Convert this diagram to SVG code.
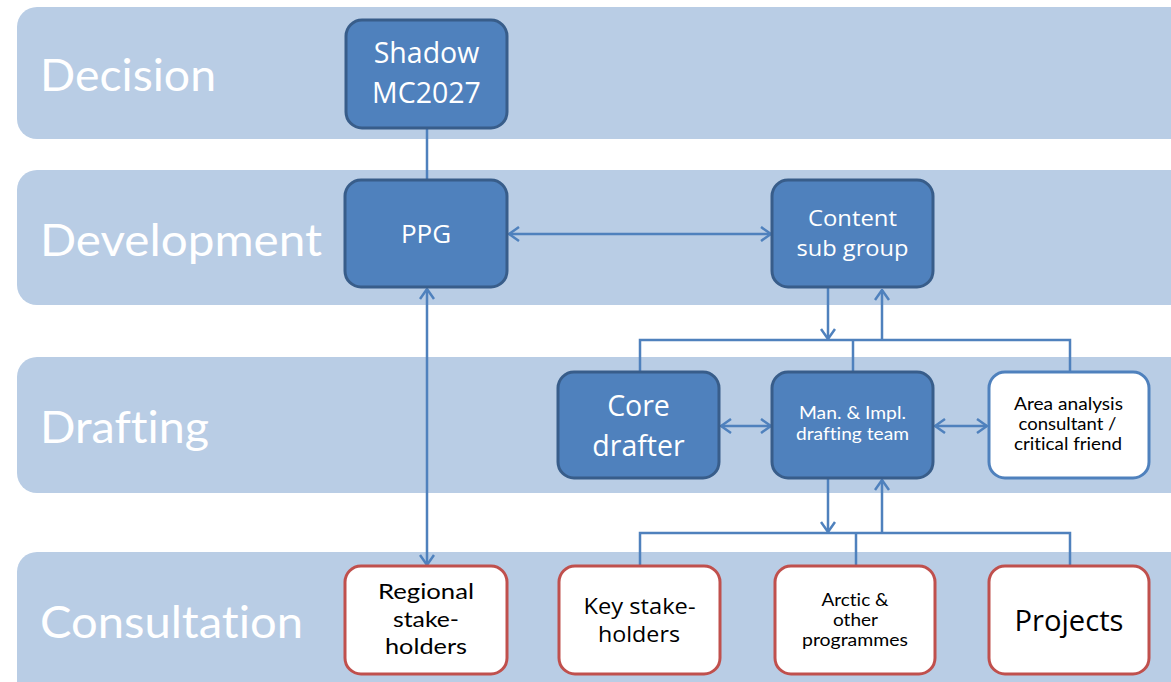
<svg xmlns="http://www.w3.org/2000/svg" width="1171" height="682" viewBox="0 0 1171 682">
<style>
.band{fill:#b9cde5}
.blabel{font-family:Lato,"Open Sans",sans-serif;font-size:44px;fill:#ffffff;font-variant-ligatures:none}
.dark{fill:#4f81bd;stroke:#385d8a;stroke-width:3}
.light{fill:#ffffff;stroke:#4f81bd;stroke-width:3}
.red{fill:#ffffff;stroke:#c0504d;stroke-width:3}
.t{font-family:"Open Sans",Lato,sans-serif;text-anchor:middle;font-variant-ligatures:none}
.s{font-family:Lato,"Open Sans",sans-serif;text-anchor:middle;font-variant-ligatures:none}
.w{fill:#ffffff}
.k{fill:#000000}
.c{fill:none;stroke:#4f81bd;stroke-width:2.5}
</style>
<defs>
<marker id="ah" viewBox="0 0 12 16" refX="11" refY="8" markerWidth="12" markerHeight="16" markerUnits="userSpaceOnUse" orient="auto-start-reverse">
<path d="M1,1 L11,8 L1,15" fill="none" stroke="#4f81bd" stroke-width="2.5"/>
</marker>
</defs>
<g id="bands">
<rect class="band" x="17" y="7" width="1200" height="132" rx="20"/>
<rect class="band" x="17" y="170" width="1200" height="135" rx="20"/>
<rect class="band" x="17" y="357" width="1200" height="136" rx="20"/>
<rect class="band" x="17" y="552" width="1200" height="150" rx="20"/>
<text class="blabel" x="40" y="91" textLength="176" lengthAdjust="spacingAndGlyphs">Decision</text>
<text class="blabel" x="40" y="256" textLength="282" lengthAdjust="spacingAndGlyphs">Development</text>
<text class="blabel" x="40" y="443" textLength="169" lengthAdjust="spacingAndGlyphs">Drafting</text>
<text class="blabel" x="40" y="638" textLength="263" lengthAdjust="spacingAndGlyphs">Consultation</text>
</g>
<g id="connectors">
<line class="c" x1="427" y1="128" x2="427" y2="180"/>
<line class="c" x1="509" y1="234" x2="771" y2="234" marker-start="url(#ah)" marker-end="url(#ah)"/>
<line class="c" x1="427" y1="289" x2="427" y2="565" marker-start="url(#ah)" marker-end="url(#ah)"/>
<line class="c" x1="828" y1="288" x2="828" y2="339" marker-end="url(#ah)"/>
<line class="c" x1="882" y1="340" x2="882" y2="290" marker-end="url(#ah)"/>
<polyline class="c" points="640,372 640,340 1070,340 1070,372"/>
<line class="c" x1="853" y1="340" x2="853" y2="372"/>
<line class="c" x1="721" y1="426" x2="771" y2="426" marker-start="url(#ah)" marker-end="url(#ah)"/>
<line class="c" x1="935" y1="426" x2="987" y2="426" marker-start="url(#ah)" marker-end="url(#ah)"/>
<line class="c" x1="828" y1="479" x2="828" y2="532" marker-end="url(#ah)"/>
<line class="c" x1="882" y1="533" x2="882" y2="480" marker-end="url(#ah)"/>
<polyline class="c" points="640,566 640,533 1070,533 1070,566"/>
<line class="c" x1="856" y1="533" x2="856" y2="566"/>
</g>
<g id="shadow">
<rect class="dark" x="346" y="20" width="161" height="108" rx="16"/>
<text class="t w" font-size="28.5" x="426.5" y="63">Shadow</text>
<text class="t w" font-size="28.5" x="426.5" y="103">MC2027</text>
</g>
<g id="ppg">
<rect class="dark" x="345" y="180" width="162" height="107" rx="16"/>
<text class="t w" font-size="26" x="426" y="243">PPG</text>
</g>
<g id="content">
<rect class="dark" x="772" y="180" width="161" height="107" rx="16"/>
<text class="t w" font-size="22.5" x="852.5" y="226" textLength="89" lengthAdjust="spacingAndGlyphs">Content</text>
<text class="t w" font-size="22.5" x="852.5" y="256" textLength="112" lengthAdjust="spacingAndGlyphs">sub group</text>
</g>
<g id="core">
<rect class="dark" x="558" y="372" width="161" height="106" rx="16"/>
<text class="t w" font-size="28.5" x="638.5" y="416">Core</text>
<text class="t w" font-size="28.5" x="638.5" y="456">drafter</text>
</g>
<g id="man">
<rect class="dark" x="772" y="372" width="161" height="106" rx="16"/>
<text class="s w" font-size="17.5" x="852.5" y="419" textLength="107" lengthAdjust="spacingAndGlyphs">Man. &amp; Impl.</text>
<text class="s w" font-size="17.5" x="852.5" y="440" textLength="113" lengthAdjust="spacingAndGlyphs">drafting team</text>
</g>
<g id="area">
<rect class="light" x="989" y="372" width="160" height="106" rx="16"/>
<text class="s k" font-size="16.5" x="1068.5" y="410" textLength="109" lengthAdjust="spacingAndGlyphs">Area analysis</text>
<text class="s k" font-size="16.5" x="1067.5" y="430" textLength="98" lengthAdjust="spacingAndGlyphs">consultant /</text>
<text class="s k" font-size="16.5" x="1068" y="450" textLength="108" lengthAdjust="spacingAndGlyphs">critical friend</text>
</g>
<g id="regional">
<rect class="red" x="345" y="566" width="162" height="108" rx="16"/>
<text class="s k" font-size="22" x="426" y="599" textLength="96" lengthAdjust="spacingAndGlyphs">Regional</text>
<text class="s k" font-size="22" x="426" y="627" textLength="66" lengthAdjust="spacingAndGlyphs">stake-</text>
<text class="s k" font-size="22" x="426" y="654" textLength="82" lengthAdjust="spacingAndGlyphs">holders</text>
</g>
<g id="key">
<rect class="red" x="559" y="566" width="161" height="108" rx="16"/>
<text class="t k" font-size="22.5" x="639.5" y="614" textLength="112" lengthAdjust="spacingAndGlyphs">Key stake-</text>
<text class="t k" font-size="22.5" x="639" y="642" textLength="82" lengthAdjust="spacingAndGlyphs">holders</text>
</g>
<g id="arctic">
<rect class="red" x="775" y="566" width="160" height="108" rx="16"/>
<text class="s k" font-size="16.5" x="855" y="606" textLength="67" lengthAdjust="spacingAndGlyphs">Arctic &amp;</text>
<text class="s k" font-size="16.5" x="855.5" y="626" textLength="45" lengthAdjust="spacingAndGlyphs">other</text>
<text class="s k" font-size="16.5" x="855" y="646" textLength="106" lengthAdjust="spacingAndGlyphs">programmes</text>
</g>
<g id="projects">
<rect class="red" x="989" y="566" width="160" height="108" rx="16"/>
<text class="t k" font-size="29" x="1069" y="631" textLength="109" lengthAdjust="spacingAndGlyphs">Projects</text>
</g>
</svg>
